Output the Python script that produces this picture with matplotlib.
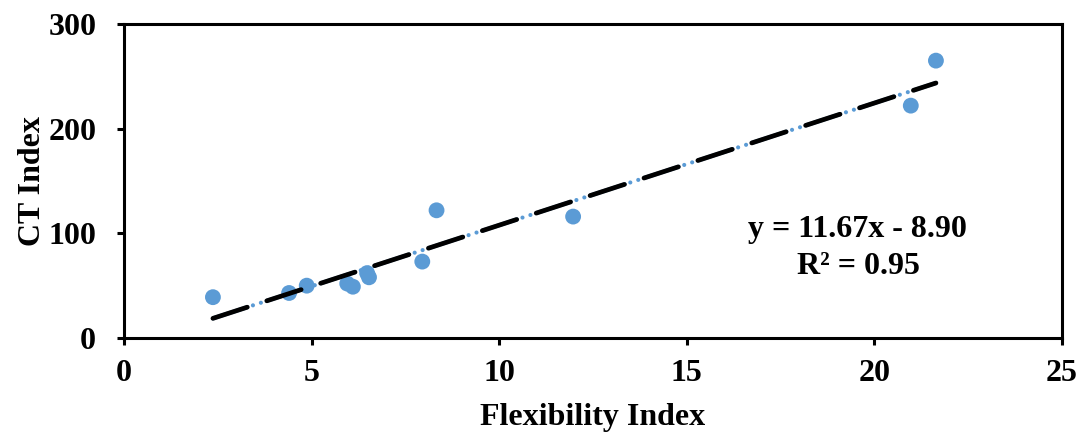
import numpy as np
import matplotlib
matplotlib.use('Agg')
import matplotlib.pyplot as plt

plt.rcParams['font.family'] = ['Liberation Serif', 'DejaVu Serif']
plt.rcParams['font.weight'] = 'bold'
plt.rcParams['lines.scale_dashes'] = False

# data
flex = [2.37, 4.40, 4.87, 5.95, 6.10, 6.48, 6.53, 7.95, 8.33, 11.97, 20.97, 21.64]
ct = [39, 43, 50, 52, 49, 62, 58, 73, 122, 116, 222, 265]
slope = 11.67
intercept = -8.90
r2 = 0.95

fig = plt.figure(figsize=(10.84, 4.36), dpi=100)
ax = fig.add_axes([124/1084, 98/436, 938/1084, 314/436])

blue = '#5B9BD5'
ax.scatter(flex, ct, s=130, c=blue, edgecolors='none', zorder=3)

xt = np.array([min(flex), max(flex)])
yt = slope * xt + intercept
ax.plot(xt, yt, color=blue, lw=3.0, solid_capstyle='round',
        dash_capstyle='round', dashes=[26, 4.3, 0.01, 6, 0.01, 4.5], zorder=4)
ax.plot(xt, yt, color='black', lw=3.4, dash_capstyle='round',
        dashes=[26, 14.8], zorder=5)

# equation text, placed in pixel coords
ax.text(857, 436 - 229, 'y = %.2fx - %.2f' % (slope, -intercept), transform=None,
        fontsize=23, ha='center', va='center')
ax.text(858, 436 - 266, 'R² = %.2f' % r2, transform=None,
        fontsize=23, ha='center', va='center')

ax.set_xlim(0, 25)
ax.set_ylim(0, 300)
ax.set_xticks([0, 5, 10, 15, 20, 25])
ax.set_yticks([0, 100, 200, 300])
for s in ax.spines.values():
    s.set_linewidth(2.2)
ax.tick_params(direction='out', length=5, width=2.2, labelsize=23)
ax.tick_params(axis='x', pad=10)
ax.tick_params(axis='y', pad=15)
ax.set_xlabel('Flexibility Index', fontsize=23, fontweight='bold', labelpad=11)
ax.set_ylabel('CT Index', fontsize=23, fontweight='bold', labelpad=1)

fig.savefig('out.png', dpi=100)
